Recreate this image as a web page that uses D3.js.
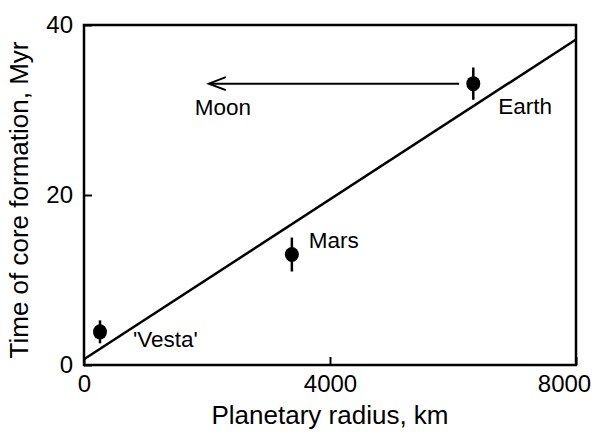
<!DOCTYPE html>
<html lang="en">
<head>
<meta charset="UTF-8">
<title>Core formation time vs planetary radius</title>
<script src="https://d3js.org/d3.v7.min.js"></script>
<style>
    body { margin: 0; background: #fff; }
    text { font-family: "Liberation Sans", Arial, sans-serif; fill: #000; }
</style>
</head>
<body>
<svg width="600" height="436"></svg>
<script>
    // data
    var bodies = ["'Vesta'", "Mars", "Earth"];
    var radius = [260, 3380, 6330];          // km
    var coreTime = [3.9, 13.0, 33.1];        // Myr
    var coreErr = [1.35, 2.0, 1.9];          // Myr (half bar)
    var fitX = [0, 8000];
    var fitY = [0.67, 38.3];
    var moonArrowX = [6100, 2030];           // arrow from Earth towards Moon
    var moonArrowY = 33.1;
    var xTicks = [0, 4000, 8000];
    var yTicks = [0, 20, 40];

    var svg = d3.select("svg"),
        margin = {top: 25, right: 24, bottom: 71, left: 84},
        width = +svg.attr("width") - margin.left - margin.right,
        height = +svg.attr("height") - margin.top - margin.bottom;

    var x = d3.scaleLinear().domain([0, 8000]).range([0, width]),
        y = d3.scaleLinear().domain([0, 40]).range([height, 0]);

    var g = svg.append("g")
        .attr("transform", "translate(" + margin.left + "," + margin.top + ")");

    // axes, ticks pointing inwards
    var xAxis = g.append("g")
        .attr("transform", "translate(0," + height + ")")
        .call(d3.axisBottom(x).tickValues(xTicks).tickSize(-8).tickPadding(10).tickFormat(d3.format("d")));
    var yAxis = g.append("g")
        .call(d3.axisLeft(y).tickValues(yTicks).tickSize(-8).tickPadding(11).tickFormat(d3.format("d")));

    [xAxis, yAxis].forEach(function (a) {
        a.select(".domain").remove();
        a.selectAll("line").attr("stroke", "#000").attr("stroke-width", 2);
        a.selectAll("text").style("font-size", "24px").style("font-family", "Liberation Sans, Arial, sans-serif");
    });
    // last x label is pulled a little left, as in the original
    xAxis.selectAll(".tick text")
        .attr("x", function (d) { return d === 8000 ? -12 : 0; });

    // frame
    g.append("rect")
        .attr("width", width).attr("height", height)
        .attr("fill", "none").attr("stroke", "#000").attr("stroke-width", 2.5);

    // fit line
    g.append("line")
        .attr("x1", x(fitX[0])).attr("y1", y(fitY[0]))
        .attr("x2", x(fitX[1])).attr("y2", y(fitY[1]))
        .attr("stroke", "#000").attr("stroke-width", 2.5);

    // arrow to the Moon
    var ax1 = x(moonArrowX[0]), ax2 = x(moonArrowX[1]), ay = y(moonArrowY);
    g.append("line")
        .attr("x1", ax1).attr("y1", ay).attr("x2", ax2).attr("y2", ay)
        .attr("stroke", "#000").attr("stroke-width", 2);
    g.append("path")
        .attr("d", "M" + (ax2 + 17) + "," + (ay - 6.5) + "L" + ax2 + "," + ay + "L" + (ax2 + 17) + "," + (ay + 6.5))
        .attr("fill", "none").attr("stroke", "#000").attr("stroke-width", 2);
    g.append("text")
        .attr("x", ax2 - 14).attr("y", ay + 31)
        .style("font-size", "22.5px")
        .text("Moon");

    // points with error bars
    var pts = bodies.map(function (b, i) {
        return {name: b, r: radius[i], t: coreTime[i], e: coreErr[i]};
    });
    var labelOff = {"'Vesta'": [33, 15], "Mars": [17, -7], "Earth": [25, 30]};

    g.selectAll(".err").data(pts).enter().append("line")
        .attr("x1", function (d) { return x(d.r); })
        .attr("x2", function (d) { return x(d.r); })
        .attr("y1", function (d) { return y(d.t - d.e); })
        .attr("y2", function (d) { return y(d.t + d.e); })
        .attr("stroke", "#000").attr("stroke-width", 2.5);

    g.selectAll(".dot").data(pts).enter().append("ellipse")
        .attr("cx", function (d) { return x(d.r); })
        .attr("cy", function (d) { return y(d.t); })
        .attr("rx", 7).attr("ry", 7.5)
        .attr("fill", "#000");

    g.selectAll(".lbl").data(pts).enter().append("text")
        .attr("x", function (d) { return x(d.r) + labelOff[d.name][0]; })
        .attr("y", function (d) { return y(d.t) + labelOff[d.name][1]; })
        .style("font-size", "22.5px")
        .text(function (d) { return d.name; });

    // axis titles
    svg.append("text")
        .attr("x", margin.left + width / 2).attr("y", 424)
        .attr("text-anchor", "middle")
        .style("font-size", "26px")
        .text("Planetary radius, km");
    svg.append("text")
        .attr("transform", "translate(28," + (margin.top + height / 2 + 5) + ") rotate(-90)")
        .attr("text-anchor", "middle")
        .style("font-size", "26px")
        .text("Time of core formation, Myr");
</script>
</body>
</html>
